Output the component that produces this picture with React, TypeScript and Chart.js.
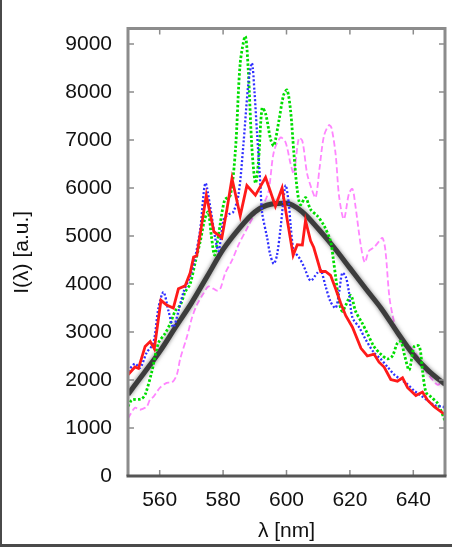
import { useEffect, useRef } from "react";
import { Chart, registerables } from "chart.js";

Chart.register(...registerables);

// Axis ticks
const xTicks = [560, 580, 600, 620, 640];
const yTicks = [0, 1000, 2000, 3000, 4000, 5000, 6000, 7000, 8000, 9000];

// Spectrum 1 (red, solid)
const redNm = [550, 552.2, 553.3, 555.4, 557, 558.3, 560.4, 562.2, 564.3, 565.9, 568, 569.6, 570.7, 571.7, 574.7, 577.1, 579.6, 581.2, 582.8, 585.4, 587.5, 590.2, 593.4, 596.5, 598.6, 600.2, 602.1, 603.4, 605, 606, 607.6, 608.6, 610.8, 612.3, 613.9, 615.5, 617.1, 618.7, 620.8, 623.5, 625.5, 627.6, 629.2, 630.8, 632.9, 635, 636.6, 638.2, 640.8, 642.9, 644.5, 646.6, 649.3, 650];
const redI = [2110, 2270, 2240, 2700, 2800, 2650, 3660, 3560, 3500, 3900, 3960, 4230, 4560, 4590, 5850, 5090, 4960, 5550, 6200, 5420, 6050, 5850, 6220, 5620, 6000, 5350, 4600, 4820, 4810, 5320, 4900, 4760, 4260, 4260, 4180, 3900, 3600, 3340, 3100, 2660, 2500, 2540, 2370, 2270, 2010, 1975, 2045, 1840, 1675, 1750, 1580, 1445, 1310, 1290];

// Spectrum 2 (green, dotted)
const greenNm = [550, 551.2, 554.3, 555.5, 557.5, 559.6, 561.7, 563.3, 564.9, 566.5, 568, 569.6, 571.2, 572.8, 574.2, 575.3, 576.3, 577.3, 578.5, 580.5, 582.3, 583.9, 585.4, 587, 587.9, 589.1, 590.2, 591.1, 592.3, 593.4, 595, 596, 597.6, 599.1, 600.2, 601.3, 602.3, 603.4, 604.4, 606, 607.6, 609.7, 611.8, 613.9, 614.8, 615.5, 616.6, 617.6, 618.7, 620.3, 621.8, 624, 625.5, 627.6, 629.7, 631.9, 633.4, 635, 636.1, 637.3, 638.7, 640.3, 641.9, 642.9, 644, 645.6, 647.7, 650];
const greenI = [1450, 1580, 1610, 1710, 2170, 2770, 2970, 3170, 3440, 3560, 3830, 4000, 4450, 4890, 5350, 5500, 5000, 4600, 5000, 5750, 5850, 6800, 8600, 9160, 8500, 6820, 6100, 6500, 7670, 7550, 7010, 6880, 7400, 7940, 8040, 7600, 6750, 5950, 5650, 5800, 5550, 5420, 5220, 4890, 4500, 4150, 3630, 3430, 3560, 3760, 3430, 3170, 2970, 2700, 2540, 2440, 2500, 2770, 2800, 2500, 2210, 2700, 2700, 2200, 1745, 1645, 1510, 1150];

// Spectrum 3 (blue, dotted)
const blueNm = [550, 552.2, 553.8, 555.9, 558, 559.6, 561.2, 562.8, 564.3, 565.9, 567.5, 569.6, 571.2, 572.8, 574.4, 575.9, 577.5, 578.6, 580.2, 581.7, 583.2, 584.9, 586.4, 588, 589.1, 589.9, 590.7, 591.8, 592.3, 593.9, 594.9, 596, 597, 598.1, 599.7, 600.7, 601.3, 602.3, 603.9, 605.5, 607.6, 609.7, 610.8, 612.3, 613.9, 615.5, 616.6, 617.6, 618.7, 619.7, 620.8, 622.9, 625, 627.6, 629.7, 631.9, 634, 636.1, 638.2, 640.3, 642.4, 644.5, 646.6, 649.3, 650];
const blueI = [2180, 2340, 2250, 2570, 2770, 3500, 3830, 3430, 3100, 3430, 3830, 4160, 4560, 5150, 6100, 5620, 4960, 4690, 5350, 5450, 5500, 5880, 6900, 8200, 8600, 8000, 7150, 6020, 5490, 4960, 4600, 4420, 4600, 5150, 6050, 5690, 5220, 4690, 4560, 4360, 4070, 4230, 4290, 3960, 3630, 3500, 3830, 4230, 4150, 3830, 3300, 3100, 2840, 2570, 2440, 2270, 2110, 2010, 1910, 1775, 1675, 1575, 1475, 1445, 1420];

// Spectrum 4 (magenta, dashed)
const pinkNm = [550, 552.2, 553.8, 555.9, 557, 558, 560.1, 562.2, 563.9, 565.4, 566.5, 568.6, 570.2, 571.7, 573.8, 575.4, 577, 578.1, 579.1, 580.7, 582.8, 584.9, 587.5, 589.7, 591.8, 593, 594.4, 596, 598.1, 599.7, 601.3, 602.3, 603.9, 605, 606.5, 608.1, 609.2, 610.4, 611.8, 613.4, 614.2, 615.5, 616.6, 618.1, 619.7, 620.8, 621.8, 623.4, 624.7, 626, 627.6, 629.2, 630.3, 631.2, 632.4, 633.4, 635, 637.1, 639.2, 641.3, 643.4, 645.6, 647.7, 649.3, 650];
const pinkI = [1200, 1420, 1380, 1445, 1600, 1650, 1840, 1940, 1950, 2110, 2450, 2900, 3300, 3560, 3800, 3950, 3900, 3860, 3900, 4230, 4490, 4820, 5150, 5420, 5620, 5700, 5950, 6750, 7050, 6950, 6500, 6300, 7040, 6980, 6300, 5950, 5800, 6400, 7080, 7310, 7250, 6700, 5820, 5350, 5880, 5980, 5600, 4820, 4450, 4690, 4760, 4890, 4960, 4700, 3760, 3370, 2970, 2770, 2680, 2500, 2240, 2040, 1900, 1975, 1950];

// Smooth fit (black)
const fitNm = [550, 555, 560, 565, 570, 575, 580, 585, 590, 595, 600, 605, 610, 615, 620, 625, 630, 635, 640, 645, 650];
const fitI = [1700, 2140, 2590, 3100, 3600, 4160, 4720, 5150, 5500, 5660, 5680, 5500, 5150, 4760, 4330, 3900, 3480, 2990, 2530, 2180, 1910];

const FONT = "'Liberation Sans', Arial, Helvetica, sans-serif";

const pts = (xs: number[], ys: number[]) => xs.map((x, i) => ({ x, y: ys[i] }));

export default function App() {
  const ref = useRef<HTMLCanvasElement>(null);

  useEffect(() => {
    const canvas = ref.current;
    if (!canvas) return;

    // Soft halo around the fit curve
    const glow = {
      id: "glow",
      beforeDatasetDraw(chart: any, args: any) {
        if (chart.data.datasets[args.index].label !== "fit") return;
        const ctx = chart.ctx;
        ctx.save();
        ctx.shadowColor = "rgba(0,0,0,0.5)";
        ctx.shadowBlur = 4;
      },
      afterDatasetDraw(chart: any, args: any) {
        if (chart.data.datasets[args.index].label !== "fit") return;
        chart.ctx.restore();
      },
    };

    // Boxed frame with inward ticks on all four sides
    const frame = {
      id: "frame",
      afterDatasetsDraw(chart: any) {
        const { ctx, chartArea: a, scales } = chart;
        const sx = scales.x;
        const sy = scales.y;
        ctx.save();
        ctx.strokeStyle = "#8c8c8c";
        ctx.lineWidth = 1.5;
        ctx.beginPath();
        for (const v of xTicks) {
          const px = sx.getPixelForValue(v);
          ctx.moveTo(px, a.bottom);
          ctx.lineTo(px, a.bottom - 6);
          ctx.moveTo(px, a.top);
          ctx.lineTo(px, a.top + 6);
        }
        for (const v of yTicks) {
          const py = sy.getPixelForValue(v);
          ctx.moveTo(a.left, py);
          ctx.lineTo(a.left + 6, py);
          ctx.moveTo(a.right, py);
          ctx.lineTo(a.right - 6, py);
        }
        ctx.stroke();
        ctx.lineWidth = 3;
        ctx.strokeStyle = "#8c8c8c";
        ctx.beginPath();
        ctx.moveTo(a.left, a.bottom);
        ctx.lineTo(a.left, a.top);
        ctx.lineTo(a.right, a.top);
        ctx.lineTo(a.right, a.bottom);
        ctx.stroke();
        ctx.strokeStyle = "#555555";
        ctx.beginPath();
        ctx.moveTo(a.left - 1.5, a.bottom);
        ctx.lineTo(a.right + 1.5, a.bottom);
        ctx.stroke();
        ctx.restore();
      },
      afterDraw(chart: any) {
        const ctx = chart.ctx;
        ctx.save();
        ctx.fillStyle = "#4a4a4a";
        ctx.fillRect(0, 0, 2, chart.height);
        ctx.fillRect(0, chart.height - 3, chart.width, 3);
        ctx.restore();
      },
    };

    const plain = (v: any) => String(v);

    const chart = new Chart(canvas, {
      type: "line",
      data: {
        datasets: [
          { label: "red", data: pts(redNm, redI), borderColor: "#ff1a1a", borderWidth: 2.8, pointRadius: 0, tension: 0, order: 1 },
          { label: "blue", data: pts(blueNm, blueI), borderColor: "#2f2fff", borderWidth: 2.3, borderDash: [2, 2], pointRadius: 0, tension: 0.3, order: 2 },
          { label: "green", data: pts(greenNm, greenI), borderColor: "#00dd00", borderWidth: 2.8, borderDash: [2.5, 2], pointRadius: 0, tension: 0.3, order: 3 },
          { label: "fit", data: pts(fitNm, fitI), borderColor: "#3c3c3c", borderWidth: 5, pointRadius: 0, cubicInterpolationMode: "monotone", order: 4 },
          { label: "pink", data: pts(pinkNm, pinkI), borderColor: "#ff85ff", borderWidth: 1.8, borderDash: [6, 3], pointRadius: 0, tension: 0.3, order: 5 },
        ],
      },
      options: {
        animation: false,
        responsive: false,
        maintainAspectRatio: false,
        layout: { padding: { top: 7, right: 7, left: 0, bottom: 0 } },
        plugins: { legend: { display: false }, tooltip: { enabled: false } },
        scales: {
          x: {
            type: "linear",
            min: 550,
            max: 650,
            grid: { display: false, drawTicks: false },
            border: { display: false },
            afterBuildTicks: (s: any) => {
              s.ticks = xTicks.map((v) => ({ value: v }));
            },
            afterFit: (s: any) => {
              s.height = 71;
            },
            ticks: { font: { family: FONT, size: 21 }, color: "#111", padding: 12, maxRotation: 0, autoSkip: false, callback: plain },
            title: { display: true, text: "λ [nm]", font: { family: FONT, size: 21 }, color: "#111", padding: { top: 0, bottom: 3 } },
          },
          y: {
            type: "linear",
            min: 0,
            max: 9320,
            grid: { display: false, drawTicks: false },
            border: { display: false },
            afterBuildTicks: (s: any) => {
              s.ticks = yTicks.map((v) => ({ value: v }));
            },
            afterFit: (s: any) => {
              s.width = 128;
            },
            ticks: { font: { family: FONT, size: 21 }, color: "#111", padding: 16, autoSkip: false, callback: plain },
            title: { display: true, text: "I(λ) [a.u.]", font: { family: FONT, size: 21 }, color: "#111", padding: { top: 10, bottom: 0 } },
          },
        },
      },
      plugins: [glow, frame],
    } as any);

    return () => chart.destroy();
  }, []);

  return (
    <div style={{ position: "absolute", left: 0, top: 0, width: 452, height: 547, background: "#fff" }}>
      <canvas ref={ref} width={452} height={547} />
    </div>
  );
}
